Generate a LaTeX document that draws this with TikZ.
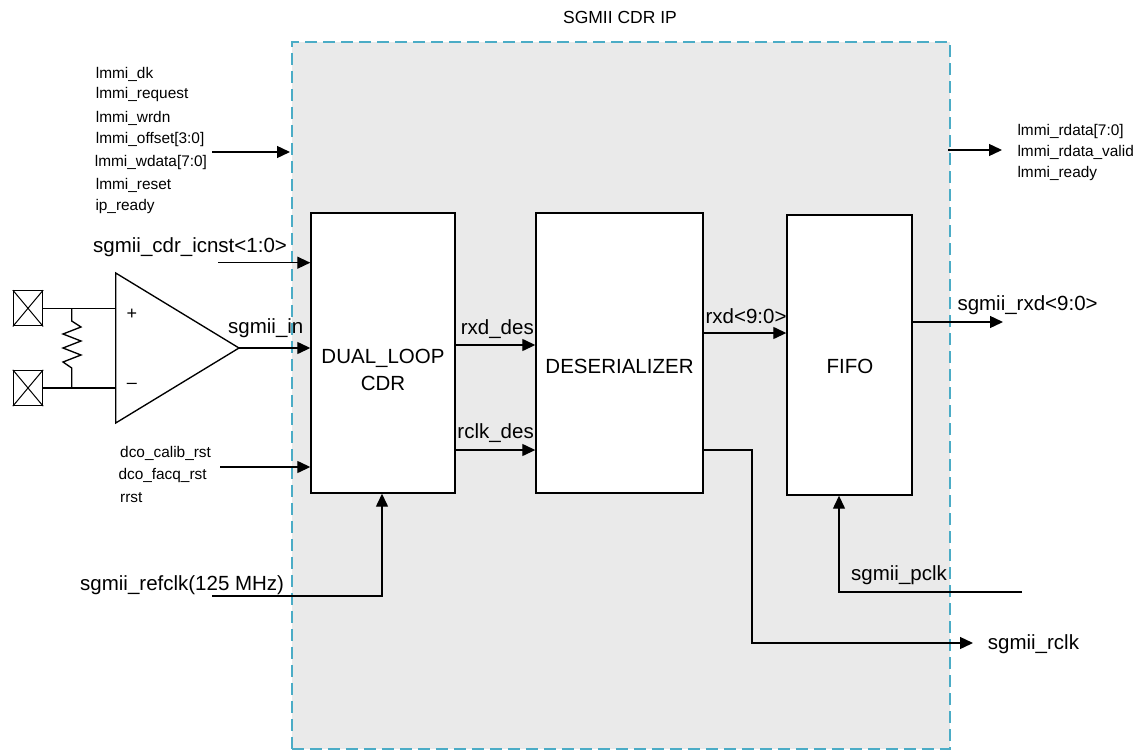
\documentclass[tikz,border=0pt]{standalone}
\usepackage{fontspec}
\setmainfont{Liberation Sans}
\usetikzlibrary{arrows.meta}
\definecolor{ipblue}{HTML}{4BACC6}
\definecolor{ipgray}{HTML}{EAEAEA}
\begin{document}
\begin{tikzpicture}[x=1pt,y=-1pt,
  big/.style={font=\fontsize{20.5}{23}\selectfont, inner sep=0pt},
  small/.style={font=\fontsize{15.4}{17}\selectfont, inner sep=0pt},
  titlefont/.style={font=\fontsize{17.5}{20}\selectfont, inner sep=0pt},
  blockbox/.style={draw=black, fill=white, line width=1.4pt, inner sep=0pt},
  padbox/.style={draw=black, line width=1.3pt, inner sep=0pt, minimum width=29pt, minimum height=35pt},
  sig/.style={line width=1.35pt, -{Triangle[length=13pt,width=12pt]}},
  wire/.style={line width=1.35pt}]
\useasboundingbox (0,0) rectangle (1137,752);
\fill[white] (0,0) rectangle (1137,752);
% IP boundary
\node[draw=ipblue, fill=ipgray, dash pattern=on 12pt off 6pt, line width=1.6pt,
      minimum width=658pt, minimum height=707pt, inner sep=0pt, anchor=north west] (ip) at (291,41) {};
\node[titlefont] (title) at (620,17) {SGMII CDR IP};
% blocks
\node[blockbox, minimum width=144pt, minimum height=280pt] (cdr) at (383,353) {};
\node[blockbox, minimum width=167pt, minimum height=280pt] (des) at (619.5,353) {};
\node[blockbox, minimum width=125pt, minimum height=280pt] (fifo) at (849.5,355) {};
\node[big] (cdrt1) at (383,358) {DUAL\_LOOP};
\node[big] (cdrt2) at (383,383) {CDR};
\node[big] (dest) at (619.5,366) {DESERIALIZER};
\node[big] (fifot) at (850,366) {FIFO};
% amplifier
\coordinate (amp1) at (115.7,273);
\coordinate (amp2) at (115.7,423);
\coordinate (ampo) at (239,348);
\draw[wire, line join=miter] (amp1) -- (ampo) -- (amp2) -- cycle;
\node[small, font=\fontsize{18}{20}\selectfont] (plus) at (132,314) {+};
\node[small, font=\fontsize{18}{20}\selectfont] (minus) at (132,386) {--};
% pads
\node[padbox] (padp) at (28,308.3) {};
\node[padbox] (padn) at (28,388) {};
\draw[line width=1pt] (padp.north west) -- (padp.south east) (padp.south west) -- (padp.north east);
\draw[line width=1pt] (padn.north west) -- (padn.south east) (padn.south west) -- (padn.north east);
\draw[wire] (padp.east) -- (amp1 |- padp.east);
\draw[wire] (padn.east) -- (amp1 |- padn.east);
% resistor
\coordinate (rt) at (71.7,308.3);
\coordinate (rb) at (71.7,388);
\draw[wire, line join=miter] (rt) -- (71.7,321) -- (81,327) -- (63,334) -- (81,341) -- (63,348) -- (81,355) -- (63,362) -- (71.7,368) -- (rb);
% inputs
\coordinate (icnst) at (218,262.7);
\node[big, anchor=west] (icnstt) at (93,246.7) {sgmii\_cdr\_icnst<1:0>};
\draw[sig] (icnst) -- (icnst -| cdr.west);
\draw[sig] (ampo) -- (ampo -| cdr.west);
\node[big, anchor=west] (sint) at (228,328) {sgmii\_in};
\coordinate (dco) at (220,467);
\draw[sig] (dco) -- (dco -| cdr.west);
\node[small, anchor=west] (dco1) at (120,453.3) {dco\_calib\_rst};
\node[small, anchor=west] (dco2) at (118.3,476) {dco\_facq\_rst};
\node[small, anchor=west] (dco3) at (120,497.3) {rrst};
\coordinate (refin) at (212,596);
\coordinate (refcorner) at (382,596);
\draw[sig] (refin) -- (refcorner) -- (refcorner |- cdr.south);
\node[big, anchor=west] (reft) at (80,585) {sgmii\_refclk(125 MHz)};
% lmmi in
\coordinate (lmmiin) at (212,152);
\coordinate (lmmiend) at (290,152);
\draw[sig] (lmmiin) -- (lmmiend);
\node[small, anchor=west] (l1) at (95.7,74) {lmmi\_dk};
\node[small, anchor=west] (l2) at (95.7,95) {lmmi\_request};
\node[small, anchor=west] (l3) at (95.7,118) {lmmi\_wrdn};
\node[small, anchor=west] (l4) at (95.7,140) {lmmi\_offset[3:0]};
\node[small, anchor=west] (l5) at (94.7,163) {lmmi\_wdata[7:0]};
\node[small, anchor=west] (l6) at (95.7,185.5) {lmmi\_reset};
\node[small, anchor=west] (l7) at (95.3,207) {ip\_ready};
% lmmi out
\coordinate (lmmiout) at (948,150);
\coordinate (lmmioutend) at (1002,150);
\draw[sig] (lmmiout) -- (lmmioutend);
\node[small, anchor=west] (r1) at (1017.3,131.7) {lmmi\_rdata[7:0]};
\node[small, anchor=west] (r2) at (1017.3,152.3) {lmmi\_rdata\_valid};
\node[small, anchor=west] (r3) at (1017.3,173.3) {lmmi\_ready};
% internal
\coordinate (rxdy) at (0,345);
\draw[sig] (rxdy -| cdr.east) -- (rxdy -| des.west);
\node[big, anchor=east] (rxdt) at (534,329.3) {rxd\_des};
\coordinate (rclky) at (0,450);
\draw[sig] (rclky -| cdr.east) -- (rclky -| des.west);
\node[big, anchor=east] (rclkt) at (534,432.7) {rclk\_des};
\coordinate (r9y) at (0,333);
\draw[sig] (r9y -| des.east) -- (r9y -| fifo.west);
\node[big, anchor=east] (r9t) at (786.7,316) {rxd<9:0>};
% rclk out
\coordinate (rck1) at (752,450);
\coordinate (rck2) at (752,643);
\coordinate (rckend) at (973,643);
\draw[sig] (rclky -| des.east) -- (rck1) -- (rck2) -- (rckend);
\node[big, anchor=west] (rckt) at (987.7,644) {sgmii\_rclk};
% pclk
\coordinate (pclkin) at (1022,592);
\coordinate (pclkc) at (839,592);
\draw[sig] (pclkin) -- (pclkc) -- (pclkc |- fifo.south);
\node[big, anchor=west] (pclkt) at (851,575) {sgmii\_pclk};
% rxd out
\coordinate (rxoy) at (0,322);
\coordinate (rxoend) at (1003,322);
\draw[sig] (rxoy -| fifo.east) -- (rxoend);
\node[big, anchor=west] (rxot) at (957.3,305) {sgmii\_rxd<9:0>};
\end{tikzpicture}
\end{document}
